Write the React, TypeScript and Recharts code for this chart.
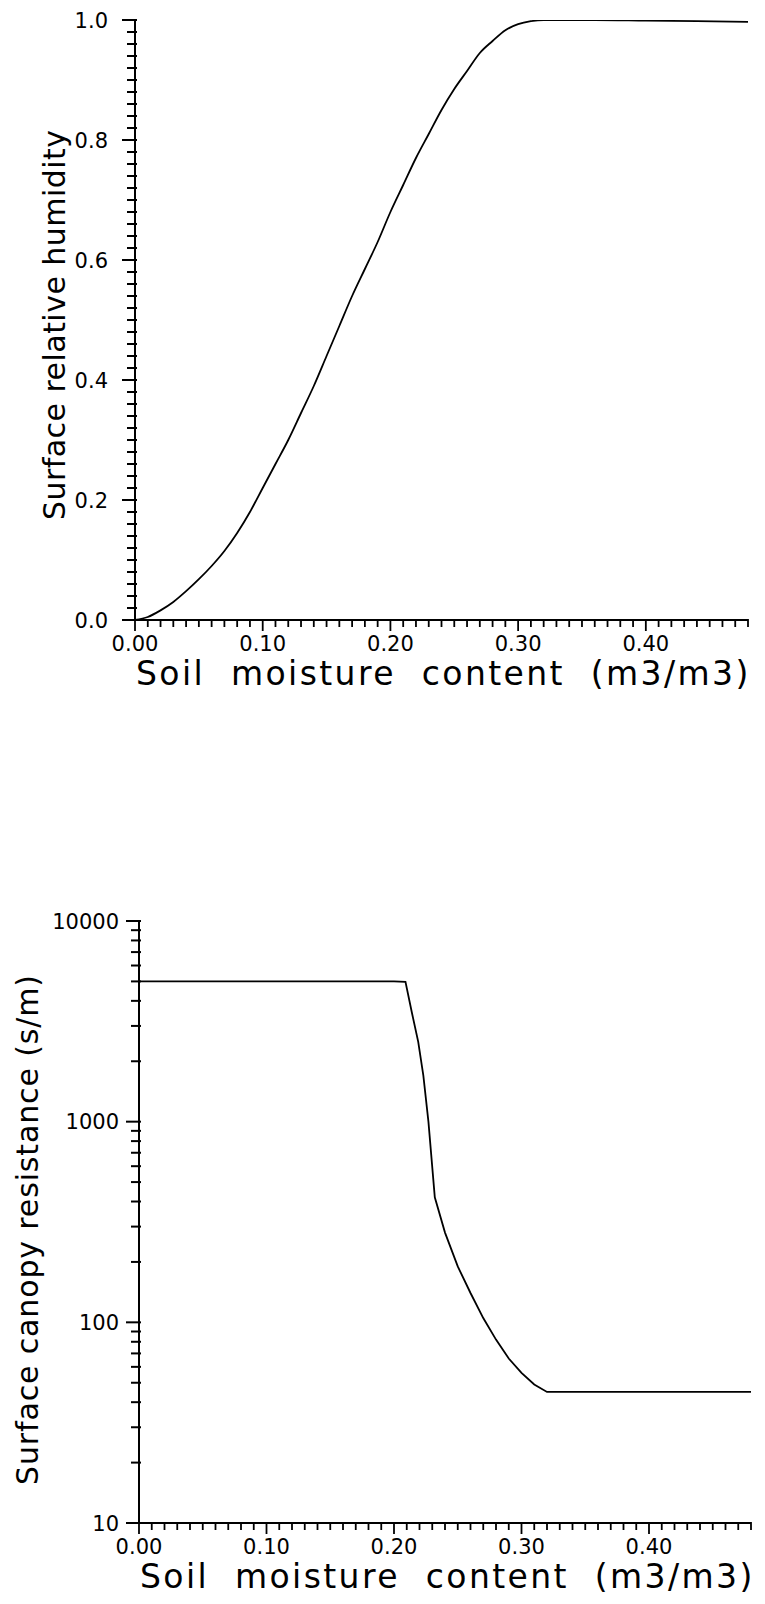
import React from 'react';
import { LineChart, Line, XAxis, YAxis, Label } from 'recharts';

// ─── Data ──────────────────────────────────────────────────────────────────
const moistureTop = [
  0, 0.01, 0.02, 0.03, 0.04, 0.05, 0.06, 0.07, 0.08, 0.09, 0.1, 0.11, 0.12, 0.13, 0.14, 0.15, 0.16,
  0.17, 0.18, 0.19, 0.2, 0.21, 0.22, 0.23, 0.24, 0.25, 0.26, 0.27, 0.28, 0.29, 0.3, 0.31, 0.32, 0.36,
  0.4, 0.44, 0.48,
];
const humidity = [
  0, 0.005, 0.016, 0.03, 0.048, 0.068, 0.09, 0.115, 0.145, 0.18, 0.22, 0.26, 0.3, 0.345, 0.39, 0.44,
  0.49, 0.54, 0.585, 0.63, 0.68, 0.725, 0.77, 0.81, 0.85, 0.885, 0.915, 0.945, 0.965, 0.983, 0.993,
  0.998, 1.0, 1.0, 0.999, 0.998, 0.997,
];

const moistureBottom = [
  0, 0.05, 0.1, 0.15, 0.2, 0.209, 0.214, 0.219, 0.223, 0.227, 0.232, 0.24, 0.25, 0.26, 0.27, 0.28,
  0.29, 0.3, 0.31, 0.32, 0.36, 0.4, 0.44, 0.48,
];
const resistance = [
  5000, 5000, 5000, 5000, 5000, 4980, 3500, 2500, 1700, 1000, 420, 280, 190, 140, 105, 82, 66, 56, 49,
  45, 45, 45, 45, 45,
];

const humidityMajor = [0, 0.2, 0.4, 0.6, 0.8, 1.0];
const moistureMajor = [0, 0.1, 0.2, 0.3, 0.4];
const resistanceMajor = [10, 100, 1000, 10000];

const moistureTicks = Array.from({ length: 49 }, (_, i) => i / 100);
const humidityTicks = Array.from({ length: 51 }, (_, i) => i / 50);
const resistanceTicks = [10, 100, 1000].flatMap((d) => [1, 2, 3, 4, 5, 6, 7, 8, 9].map((m) => m * d)).concat([10000]);

const topData = moistureTop.map((x, i) => ({ x, y: humidity[i] }));
const bottomData = moistureBottom.map((x, i) => ({ x, y: resistance[i] }));

const FONT = '"DejaVu Sans", sans-serif';
const near = (list: number[], v: number) => list.some((m) => Math.abs(m - v) < 1e-9);

// tickSize/tickMargin are 0, so x,y here sit right on the axis line
const LeftTick = (props: any) => {
  const x = Number(props.x);
  const y = Number(props.y);
  const v = props.payload.value;
  const major = near(props.majors, v);
  const len = major ? 13 : 8;
  return (
    <g>
      <path d={`M${x - len},${y}H${x + 2}`} stroke="#000" strokeWidth={2} fill="none" />
      {major && (
        <text x={x - props.gap} y={y} dy={7.5} textAnchor="end" fontSize={21} fontFamily={FONT} fill="#000">
          {props.fmt(v)}
        </text>
      )}
    </g>
  );
};

const BottomTick = (props: any) => {
  const x = Number(props.x);
  const y = Number(props.y);
  const v = props.payload.value;
  const major = near(moistureMajor, v);
  return (
    <g>
      <path d={`M${x},${y - 1}V${y + (major ? 11 : 7)}`} stroke="#000" strokeWidth={1.8} fill="none" />
      {major && (
        <text x={x} y={y + 31} textAnchor="middle" fontSize={21} fontFamily={FONT} fill="#000">
          {v.toFixed(2)}
        </text>
      )}
    </g>
  );
};

const XTitle = ({ viewBox }: any) => (
  <text
    x={viewBox.x + 1}
    y={viewBox.y + 65}
    fontSize={33}
    letterSpacing={2.4}
    wordSpacing={13}
    fontFamily={FONT}
    fill="#000"
  >
    Soil moisture content (m3/m3)
  </text>
);

const yTitle = (text: string, bx: number, len: number, shift: number) => ({ viewBox }: any) => {
  const cy = viewBox.y + viewBox.height / 2 + shift;
  return (
    <text
      x={bx}
      y={cy}
      transform={`rotate(-90, ${bx}, ${cy})`}
      textAnchor="middle"
      textLength={len}
      lengthAdjust="spacing"
      fontSize={30}
      fontFamily={FONT}
      fill="#000"
    >
      {text}
    </text>
  );
};

const axisStroke = { stroke: '#000', strokeWidth: 2 };

function HumidityChart() {
  return (
    <LineChart width={765} height={700} data={topData} margin={{ top: 20, right: 17, bottom: 20, left: 75 }}>
      <XAxis
        dataKey="x"
        type="number"
        domain={[0, 0.48]}
        allowDataOverflow
        ticks={moistureTicks}
        interval={0}
        height={60}
        tickSize={0}
        tickMargin={0}
        tickLine={false}
        axisLine={axisStroke}
        tick={(p: any) => <BottomTick {...p} />}
      >
        <Label content={<XTitle />} />
      </XAxis>
      <YAxis
        type="number"
        domain={[0, 1]}
        allowDataOverflow
        ticks={humidityTicks}
        interval={0}
        width={60}
        tickSize={0}
        tickMargin={0}
        tickLine={false}
        axisLine={axisStroke}
        tick={(p: any) => <LeftTick {...p} majors={humidityMajor} fmt={(v: number) => v.toFixed(1)} gap={27} />}
      >
        <Label content={yTitle('Surface relative humidity', 65, 390, 5)} />
      </YAxis>
      <Line type="monotone" dataKey="y" stroke="#000" strokeWidth={1.8} dot={false} isAnimationActive={false} />
    </LineChart>
  );
}

function ResistanceChart() {
  return (
    <LineChart width={765} height={744} data={bottomData} margin={{ top: 61, right: 14, bottom: 21, left: 79 }}>
      <XAxis
        dataKey="x"
        type="number"
        domain={[0, 0.48]}
        allowDataOverflow
        ticks={moistureTicks}
        interval={0}
        height={60}
        tickSize={0}
        tickMargin={0}
        tickLine={false}
        axisLine={axisStroke}
        tick={(p: any) => <BottomTick {...p} />}
      >
        <Label content={<XTitle />} />
      </XAxis>
      <YAxis
        type="number"
        scale="log"
        domain={[10, 10000]}
        allowDataOverflow
        ticks={resistanceTicks}
        interval={0}
        width={60}
        tickSize={0}
        tickMargin={0}
        tickLine={false}
        axisLine={axisStroke}
        tick={(p: any) => <LeftTick {...p} majors={resistanceMajor} fmt={(v: number) => String(v)} gap={20} />}
      >
        <Label content={yTitle('Surface canopy resistance (s/m)', 38, 510, 8)} />
      </YAxis>
      <Line type="linear" dataKey="y" stroke="#000" strokeWidth={1.8} dot={false} isAnimationActive={false} />
    </LineChart>
  );
}

export default function App() {
  return (
    <div style={{ position: 'absolute', left: 0, top: 0, width: 765, height: 1604, background: '#fff' }}>
      <div style={{ position: 'absolute', left: 0, top: 0 }}>
        <HumidityChart />
      </div>
      <div style={{ position: 'absolute', left: 0, top: 860 }}>
        <ResistanceChart />
      </div>
    </div>
  );
}
